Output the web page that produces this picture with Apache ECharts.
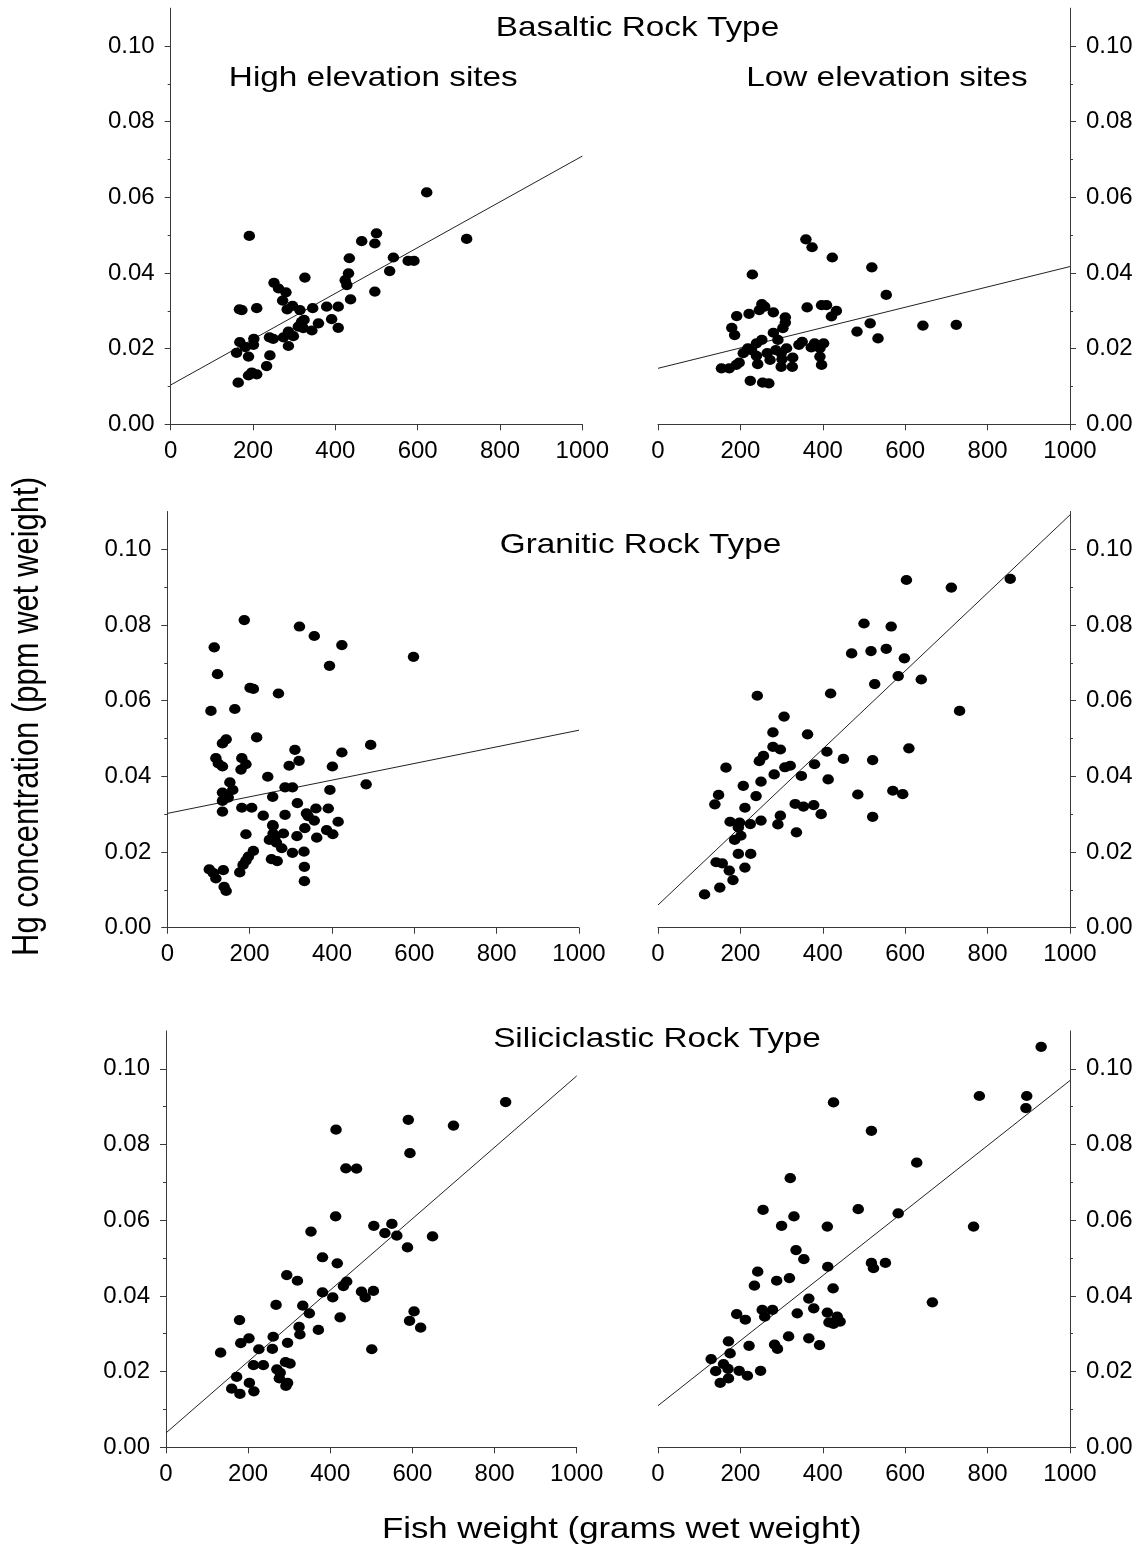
<!DOCTYPE html>
<html>
<head>
<meta charset="utf-8">
<script src="https://cdn.jsdelivr.net/npm/echarts@6/dist/echarts.min.js"></script>
<style>
html,body{margin:0;padding:0;background:#fff;}
#chart{width:1143px;height:1559px;}
</style>
</head>
<body>
<div id="chart"></div>
<script>
// ---------------- DATA ----------------
const weightTicks = [0, 200, 400, 600, 800, 1000];
const hgTicks = [0, 0.02, 0.04, 0.06, 0.08, 0.10];
const hgMinorTicks = [0.01, 0.03, 0.05, 0.07, 0.09];
const fitWeight = [0, 1000];

const rowTitles = ['Basaltic Rock Type', 'Granitic Rock Type', 'Siliciclastic Rock Type'];
const columnTitles = ['High elevation sites', 'Low elevation sites'];
const yTitle = 'Hg concentration (ppm wet weight)';
const xTitle = 'Fish weight (grams wet weight)';

// Basaltic, high elevation
const basaltHighWeight = [622,719,191,500,496,464,434,541,577,591,532,432,424,428,496,437,326,251,262,280,272,283,296,314,345,379,407,167,173,209,318,310,322,343,359,391,407,286,274,298,240,249,202,201,286,168,181,160,189,241,233,189,209,197,164,324];
const basaltHighHg = [0.0613,0.0490,0.0498,0.0505,0.0478,0.0484,0.0439,0.0441,0.0432,0.0432,0.0405,0.0399,0.0381,0.0368,0.0351,0.0330,0.0388,0.0374,0.0359,0.0349,0.0327,0.0304,0.0313,0.0302,0.0307,0.0311,0.0311,0.0304,0.0302,0.0307,0.0271,0.0258,0.0254,0.0248,0.0267,0.0278,0.0255,0.0245,0.0230,0.0233,0.0230,0.0226,0.0226,0.0210,0.0207,0.0217,0.0204,0.0189,0.0179,0.0182,0.0154,0.0129,0.0132,0.0137,0.0110,0.0276];
const basaltHighFit = [0.0104, 0.0709];

// Basaltic, low elevation
const basaltLowWeight = [359,374,423,519,229,554,362,397,409,433,421,252,259,246,280,221,191,309,179,186,280,303,309,515,643,724,483,534,350,342,380,402,372,393,312,291,252,239,218,207,227,239,272,299,286,301,327,393,397,299,326,242,197,190,173,154,224,254,269,265];
const basaltLowHg = [0.0489,0.0468,0.0441,0.0415,0.0396,0.0342,0.0309,0.0315,0.0315,0.0300,0.0285,0.0318,0.0311,0.0302,0.0296,0.0292,0.0286,0.0283,0.0255,0.0236,0.0242,0.0254,0.0269,0.0267,0.0261,0.0263,0.0245,0.0227,0.0218,0.0210,0.0214,0.0214,0.0203,0.0201,0.0201,0.0223,0.0223,0.0214,0.0201,0.0188,0.0196,0.0181,0.0170,0.0188,0.0196,0.0172,0.0176,0.0179,0.0157,0.0152,0.0152,0.0159,0.0163,0.0157,0.0148,0.0148,0.0115,0.0110,0.0108,0.0188];
const basaltLowFit = [0.0148, 0.0417];

// Granitic, high elevation
const graniteHighWeight = [187,321,357,424,114,598,394,122,201,209,270,164,106,217,143,134,494,310,424,320,118,124,134,181,191,179,296,401,244,483,395,286,304,152,159,134,148,256,134,134,181,205,316,391,361,338,233,286,342,357,415,334,257,387,191,282,315,402,363,257,248,265,278,209,197,191,184,176,304,332,253,267,333,333,102,112,118,136,138,143,262,256];
const graniteHighHg = [0.0813,0.0796,0.0771,0.0747,0.0741,0.0716,0.0692,0.0670,0.0634,0.0631,0.0619,0.0578,0.0573,0.0503,0.0498,0.0487,0.0483,0.0470,0.0463,0.0441,0.0448,0.0434,0.0426,0.0448,0.0432,0.0418,0.0428,0.0426,0.0399,0.0379,0.0364,0.0371,0.0371,0.0384,0.0364,0.0357,0.0344,0.0346,0.0335,0.0307,0.0317,0.0317,0.0329,0.0315,0.0315,0.0302,0.0296,0.0298,0.0295,0.0283,0.0280,0.0263,0.0269,0.0258,0.0247,0.0249,0.0242,0.0247,0.0238,0.0249,0.0232,0.0225,0.0210,0.0203,0.0188,0.0177,0.0166,0.0146,0.0198,0.0201,0.0181,0.0176,0.0161,0.0123,0.0154,0.0144,0.0130,0.0152,0.0108,0.0097,0.0242,0.0271];
const graniteHighFit = [0.0302, 0.0522];

// Granitic, low elevation
const graniteLowWeight = [603,712,855,500,566,470,517,554,598,583,639,526,419,241,732,306,279,363,279,297,410,609,256,246,450,521,165,308,321,380,282,348,413,250,207,570,594,485,147,238,138,211,333,353,378,396,297,521,175,198,224,250,291,195,336,201,186,195,225,141,156,173,211,182,150,113];
const graniteLowHg = [0.0919,0.0899,0.0922,0.0804,0.0796,0.0725,0.0731,0.0737,0.0712,0.0665,0.0656,0.0644,0.0619,0.0613,0.0573,0.0558,0.0516,0.0511,0.0478,0.0471,0.0465,0.0474,0.0454,0.0440,0.0446,0.0443,0.0423,0.0424,0.0428,0.0432,0.0405,0.0401,0.0392,0.0386,0.0375,0.0362,0.0353,0.0352,0.0351,0.0348,0.0326,0.0317,0.0327,0.0320,0.0324,0.0300,0.0296,0.0293,0.0280,0.0278,0.0274,0.0283,0.0273,0.0265,0.0252,0.0243,0.0232,0.0195,0.0195,0.0173,0.0170,0.0151,0.0159,0.0126,0.0106,0.0088];
const graniteLowFit = [0.0060, 0.1091];

// Siliciclastic, high elevation
const siliciHighWeight = [827,590,700,414,594,438,464,413,506,550,533,353,562,649,588,381,417,294,320,440,432,381,406,476,485,505,268,333,349,424,604,593,620,179,324,326,371,202,261,182,296,226,259,501,133,213,237,291,302,270,278,276,172,203,296,292,160,214,180];
const siliciHighHg = [0.0912,0.0865,0.0850,0.0839,0.0777,0.0737,0.0736,0.0610,0.0585,0.0590,0.0566,0.0570,0.0559,0.0557,0.0528,0.0502,0.0486,0.0455,0.0440,0.0438,0.0426,0.0409,0.0396,0.0411,0.0396,0.0413,0.0376,0.0374,0.0354,0.0343,0.0359,0.0334,0.0316,0.0336,0.0318,0.0298,0.0310,0.0288,0.0292,0.0275,0.0276,0.0259,0.0260,0.0259,0.0250,0.0217,0.0217,0.0225,0.0221,0.0206,0.0197,0.0182,0.0186,0.0170,0.0170,0.0162,0.0155,0.0148,0.0141];
const siliciHighFit = [0.0038, 0.0981];

// Siliciclastic, low elevation
const siliciLowWeight = [930,780,895,893,426,518,628,321,255,486,583,330,300,411,766,335,354,518,552,523,412,242,319,288,234,425,366,666,378,253,278,191,338,411,259,212,435,442,426,415,317,366,171,221,392,283,290,175,129,159,170,140,197,249,217,171,151];
const siliciLowHg = [0.1058,0.0928,0.0928,0.0896,0.0911,0.0836,0.0752,0.0711,0.0627,0.0629,0.0618,0.0610,0.0585,0.0583,0.0583,0.0521,0.0497,0.0487,0.0487,0.0473,0.0477,0.0464,0.0447,0.0440,0.0427,0.0420,0.0393,0.0383,0.0367,0.0363,0.0363,0.0352,0.0354,0.0356,0.0345,0.0337,0.0345,0.0332,0.0326,0.0330,0.0293,0.0288,0.0280,0.0268,0.0270,0.0271,0.0260,0.0248,0.0233,0.0220,0.0207,0.0201,0.0202,0.0202,0.0189,0.0182,0.0170];
const siliciLowFit = [0.0110, 0.0969];

// ---------------- LAYOUT ----------------
const FONT = '"Liberation Sans", Arial, Helvetica, sans-serif';
const AXIS_COLOR = '#3a3a3a';
const panels = [
  {w: basaltHighWeight, hg: basaltHighHg, fit: basaltHighFit, side: 'left',  grid: {left: 170.7, top: 8.2,   width: 411.6, height: 416.1}},
  {w: basaltLowWeight,  hg: basaltLowHg,  fit: basaltLowFit,  side: 'right', grid: {left: 658,   top: 8.2,   width: 412,   height: 416.1}},
  {w: graniteHighWeight,hg: graniteHighHg,fit: graniteHighFit,side: 'left',  grid: {left: 167.3, top: 511.5, width: 411.7, height: 416.2}},
  {w: graniteLowWeight, hg: graniteLowHg, fit: graniteLowFit, side: 'right', grid: {left: 658,   top: 511.5, width: 412,   height: 416.2}},
  {w: siliciHighWeight, hg: siliciHighHg, fit: siliciHighFit, side: 'left',  grid: {left: 166,   top: 1030.9,width: 410.7, height: 416.4}},
  {w: siliciLowWeight,  hg: siliciLowHg,  fit: siliciLowFit,  side: 'right', grid: {left: 658,   top: 1030.9,width: 412,   height: 416.4}}
];

const grids = [], xAxes = [], yAxes = [], series = [];
const N = panels.length;
panels.forEach((p, i) => {
  grids.push(Object.assign({containLabel: false}, p.grid));
  xAxes.push({
    type: 'value', gridIndex: i, min: weightTicks[0], max: weightTicks[weightTicks.length - 1],
    interval: weightTicks[1] - weightTicks[0],
    axisLine: {show: true, onZero: false, lineStyle: {color: AXIS_COLOR, width: 1}},
    axisTick: {show: true, inside: false, length: 6, lineStyle: {color: AXIS_COLOR, width: 1}},
    axisLabel: {show: true, margin: 15, color: '#000', fontSize: 24, fontFamily: FONT,
                showMinLabel: true, showMaxLabel: true, formatter: v => String(v)},
    splitLine: {show: false}
  });
  yAxes.push({
    type: 'value', gridIndex: i, position: p.side, min: 0, max: 0.11,
    axisLine: {show: true, onZero: false, lineStyle: {color: AXIS_COLOR, width: 1}},
    axisTick: {show: true, inside: false, length: 6, customValues: hgTicks, lineStyle: {color: AXIS_COLOR, width: 1}},
    axisLabel: {show: true, margin: 16, color: '#000', fontSize: 24, fontFamily: FONT,
                customValues: hgTicks, formatter: v => Number(v).toFixed(2)},
    splitLine: {show: false}
  });
  series.push({
    type: 'scatter', xAxisIndex: i, yAxisIndex: i,
    data: p.w.map((x, k) => [x, p.hg[k]]),
    symbol: 'circle', symbolSize: [11.5, 10.2],
    itemStyle: {color: '#000', opacity: 1}, silent: true, z: 3
  });
  series.push({
    type: 'line', xAxisIndex: i, yAxisIndex: i,
    data: fitWeight.map((x, k) => [x, p.fit[k]]),
    showSymbol: false, symbol: 'none',
    lineStyle: {color: '#222', width: 1}, silent: true, z: 2, animation: false
  });
});
// overlay grids carrying only the short minor ticks of each Hg axis
panels.forEach((p, i) => {
  grids.push(Object.assign({containLabel: false}, p.grid));
  xAxes.push({
    type: 'value', gridIndex: N + i, min: 0, max: 1000, show: false,
    axisLine: {show: false, onZero: false}
  });
  yAxes.push({
    type: 'value', gridIndex: N + i, position: p.side, min: 0, max: 0.11,
    axisLine: {show: false, onZero: false},
    axisTick: {show: true, inside: false, length: 3, customValues: hgMinorTicks, lineStyle: {color: AXIS_COLOR, width: 1}},
    axisLabel: {show: false},
    splitLine: {show: false}
  });
});

function txt(text, x, y, size, extra) {
  return Object.assign({
    type: 'text', x: x, y: y, silent: true,
    style: {text: text, fill: '#000', font: size + 'px ' + FONT,
            textAlign: 'center', align: 'center',
            textVerticalAlign: 'middle', verticalAlign: 'middle'}
  }, extra || {});
}

const graphics = [
  txt(rowTitles[0], 637.5, 28.6, 28, {scaleX: 1.19}),
  txt(columnTitles[0], 373.3, 78.6, 28, {scaleX: 1.19}),
  txt(columnTitles[1], 887, 78.6, 28, {scaleX: 1.19}),
  txt(rowTitles[1], 640.5, 545.3, 28, {scaleX: 1.19}),
  txt(rowTitles[2], 657, 1039.6, 28, {scaleX: 1.19}),
  txt(xTitle, 621.7, 1529.6, 30, {scaleX: 1.16}),
  txt(yTitle, 28.4, 716.5, 31, {rotation: Math.PI / 2, scaleY: 1.17})
];

const chart = echarts.init(document.getElementById('chart'), null, {renderer: 'canvas'});
chart.setOption({
  backgroundColor: '#fff',
  animation: false,
  grid: grids,
  xAxis: xAxes,
  yAxis: yAxes,
  series: series,
  graphic: graphics
});
</script>
</body>
</html>
